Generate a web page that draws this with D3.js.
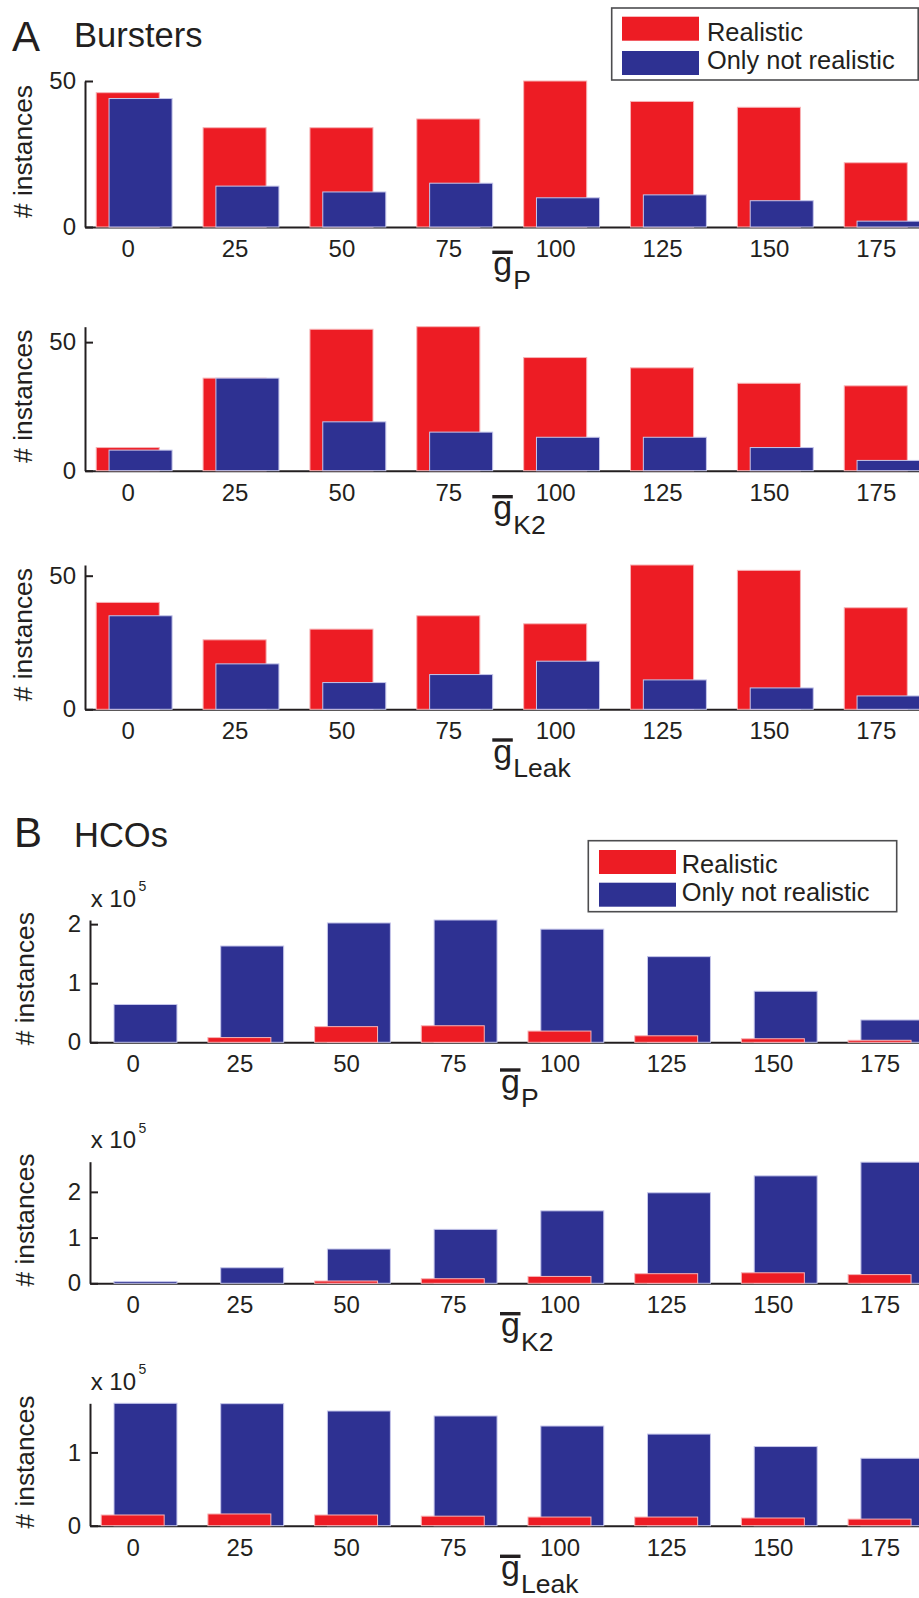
<!DOCTYPE html>
<html>
<head>
<meta charset="utf-8">
<script src="https://cdn.jsdelivr.net/npm/d3@7"></script>
<style>
body { margin: 0; background: #fff; }
svg { display: block; font-family: "Liberation Sans", Arial, sans-serif; }
</style>
</head>
<body>
<svg id="fig" width="919" height="1598"></svg>
<script>
// conductance values (x categories)
const gbar = [0, 25, 50, 75, 100, 125, 150, 175];

// A: bursters, counts
const burstP_real = [46, 34, 34, 37, 50, 43, 41, 22];
const burstP_only = [44, 14, 12, 15, 10, 11, 9, 2];
const burstK2_real = [9, 36, 55, 56, 44, 40, 34, 33];
const burstK2_only = [8, 36, 19, 15, 13, 13, 9, 4];
const burstLeak_real = [40, 26, 30, 35, 32, 54, 52, 38];
const burstLeak_only = [35, 17, 10, 13, 18, 11, 8, 5];

// B: HCOs, counts x 10^5
const hcoP_real = [0, 0.08, 0.265, 0.28, 0.19, 0.11, 0.06, 0.034];
const hcoP_only = [0.64, 1.63, 2.02, 2.07, 1.915, 1.45, 0.864, 0.378];
const hcoK2_real = [0, 0, 0.05, 0.1, 0.15, 0.21, 0.23, 0.19];
const hcoK2_only = [0.04, 0.34, 0.75, 1.18, 1.585, 1.98, 2.35, 2.65];
const hcoLeak_real = [0.146, 0.16, 0.146, 0.13, 0.118, 0.118, 0.105, 0.09];
const hcoLeak_only = [1.67, 1.665, 1.565, 1.497, 1.36, 1.25, 1.08, 0.92];

const legendLabels = ['Realistic', 'Only not realistic'];

const RED = '#ed1c24', BLUE = '#2e3192', INK = '#231f20';

let svg = d3.select('#fig');

// layout of the six panels
let panels = [
  {real: burstP_real, only: burstP_only, ymax: 50, yticks: [0, 50], sub: 'P',
   left: 85, top: 81, base: 227, front: 'only', xl: 25.3, xlx: 492.3, ylx: 32},
  {real: burstK2_real, only: burstK2_only, ymax: 56, yticks: [0, 50], sub: 'K2',
   left: 85, top: 326.7, base: 470.7, front: 'only', xl: 26, xlx: 492.3, ylx: 32},
  {real: burstLeak_real, only: burstLeak_only, ymax: 54, yticks: [0, 50], sub: 'Leak',
   left: 85, top: 565, base: 709.3, front: 'only', xl: 30.7, xlx: 492.3, ylx: 32},
  {real: hcoP_real, only: hcoP_only, ymax: 2.07, yticks: [0, 1, 2], sub: 'P',
   left: 90, top: 920, base: 1042.3, front: 'real', xl: 27.7, xlx: 500, ylx: 34, exp: true},
  {real: hcoK2_real, only: hcoK2_only, ymax: 2.66, yticks: [0, 1, 2], sub: 'K2',
   left: 90, top: 1161.7, base: 1283.3, front: 'real', xl: 30.4, xlx: 500, ylx: 34, exp: true},
  {real: hcoLeak_real, only: hcoLeak_only, ymax: 1.67, yticks: [0, 1], sub: 'Leak',
   left: 90, top: 1403.3, base: 1525.7, front: 'real', xl: 30.6, xlx: 500, ylx: 34, exp: true}
];

panels.forEach(function(p) {
  let pxPerUnit = p.left === 85 ? 4.2744 : 4.268;
  let x = d3.scaleLinear().domain([-10, 190]).range([p.left, p.left + 200 * pxPerUnit]);
  let y = d3.scaleLinear().domain([0, p.ymax]).range([p.base, p.top]);
  let g = svg.append('g');

  // x axis
  let xa = g.append('g')
    .attr('transform', 'translate(0,' + p.base + ')')
    .call(d3.axisBottom(x).tickValues(gbar).tickSize(0).tickSizeOuter(0).tickPadding(13));
  // y axis, ticks pointing inward
  let ya = g.append('g')
    .attr('transform', 'translate(' + p.left + ',0)')
    .call(d3.axisLeft(y).tickValues(p.yticks).tickSizeInner(-8).tickSizeOuter(0).tickPadding(9)
      .tickFormat(d3.format('d')));
  [xa, ya].forEach(function(a) {
    a.attr('font-family', null).attr('font-size', 24);
    a.select('.domain').attr('stroke', INK).attr('stroke-width', 2);
    a.selectAll('.tick line').attr('stroke', INK).attr('stroke-width', 2);
    a.selectAll('.tick text').attr('fill', INK);
  });

  // bars
  let series = {
    real: {vals: p.real, color: RED, edge: '#f7b3b6', shift: 0},
    only: {vals: p.only, color: BLUE, edge: '#c5c6ea', shift: 3}
  };
  let order = p.front === 'only' ? ['real', 'only'] : ['only', 'real'];
  order.forEach(function(k) {
    let s = series[k];
    g.append('g').selectAll('rect')
      .data(gbar)
      .enter()
      .append('rect')
      .attr('x', function(d) { return x(d + s.shift - 7.375); })
      .attr('width', function(d) { return x(14.75) - x(0); })
      .attr('y', function(d, i) { return y(s.vals[i]); })
      .attr('height', function(d, i) { return y(0) - y(s.vals[i]); })
      .attr('fill', s.color)
      .attr('stroke', s.edge)
      .attr('stroke-width', 1);
  });

  // y label
  g.append('text')
    .attr('transform', 'translate(' + p.ylx + ',' + ((p.top + p.base) / 2 - 2.5) + ') rotate(-90)')
    .attr('text-anchor', 'middle')
    .attr('font-size', 26.3)
    .attr('fill', INK)
    .text('# instances');

  // x label: g with overbar and subscript
  let oy = p.base + p.xl;
  g.append('rect')
    .attr('x', p.xlx).attr('y', oy - 1.7)
    .attr('width', 20.5).attr('height', 3.4)
    .attr('fill', INK);
  g.append('text')
    .attr('x', p.xlx + 1).attr('y', oy + 22.5)
    .attr('font-size', 34).attr('fill', INK)
    .text('g');
  g.append('text')
    .attr('x', p.xlx + 21).attr('y', oy + 37)
    .attr('font-size', 26.5).attr('fill', INK)
    .text(p.sub);

  // exponent
  if (p.exp) {
    g.append('text')
      .attr('x', p.left + 0.7).attr('y', p.top - 13.3)
      .attr('font-size', 24).attr('fill', INK)
      .text('x 10');
    g.append('text')
      .attr('x', p.left + 48.5).attr('y', p.top - 29)
      .attr('font-size', 14).attr('fill', INK)
      .text('5');
  }
});

// panel titles
function title(letter, name, x0, yl, yn) {
  svg.append('text').attr('x', x0).attr('y', yl).attr('font-size', 42).attr('fill', INK).text(letter);
  svg.append('text').attr('x', 74).attr('y', yn).attr('font-size', 34.5).attr('fill', INK).text(name);
}
title('A', 'Bursters', 12, 50.7, 47.3);
title('B', 'HCOs', 14, 847, 846.7);

// legends
function legend(bx, by, bw, bh, sx, sy, tx, ty) {
  let lg = svg.append('g');
  lg.append('rect')
    .attr('x', bx).attr('y', by).attr('width', bw).attr('height', bh)
    .attr('fill', '#fff').attr('stroke', '#4d4d4f').attr('stroke-width', 1.6);
  lg.selectAll('rect.sw')
    .data([RED, BLUE])
    .enter()
    .append('rect')
    .attr('class', 'sw')
    .attr('x', sx)
    .attr('y', function(d, i) { return sy[i]; })
    .attr('width', 77).attr('height', 24)
    .attr('fill', function(d) { return d; });
  lg.selectAll('text')
    .data(legendLabels)
    .enter()
    .append('text')
    .attr('x', tx)
    .attr('y', function(d, i) { return ty[i]; })
    .attr('font-size', 25.4)
    .attr('fill', INK)
    .text(function(d) { return d; });
}
legend(611.7, 8, 306.5, 72, 622, [16.7, 51], 707, [40.7, 69]);
legend(588.3, 840.7, 308.4, 71, 599, [850, 882.7], 681.7, [872.7, 901]);
</script>
</body>
</html>
